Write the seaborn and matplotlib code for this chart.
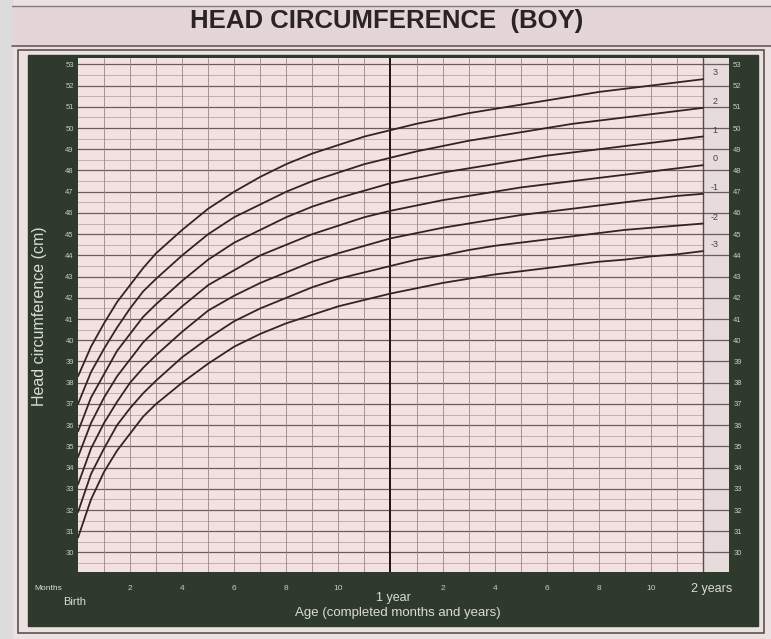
import matplotlib
matplotlib.use("Agg")
import matplotlib.pyplot as plt
from matplotlib.patches import Rectangle
from matplotlib.lines import Line2D
import seaborn as sns
import pandas as pd

# age in months, head circumference (cm) per z-score curve
months = [0, 0.5, 1, 1.5, 2, 2.5, 3, 4, 5, 6, 7, 8, 9, 10, 11, 12,
          13, 14, 15, 16, 17, 18, 19, 20, 21, 22, 23, 24]
hc_m3 = [30.7, 32.5, 33.8, 34.8, 35.6, 36.4, 37.0, 38.0, 38.9, 39.7, 40.3, 40.8, 41.2, 41.6,
         41.9, 42.2, 42.45, 42.7, 42.9, 43.1, 43.25, 43.4, 43.55, 43.7, 43.8, 43.95, 44.05, 44.2]
hc_m2 = [31.9, 33.7, 34.9, 36.0, 36.8, 37.5, 38.1, 39.2, 40.1, 40.9, 41.5, 42.0, 42.5, 42.9,
         43.2, 43.5, 43.8, 44.0, 44.25, 44.45, 44.6, 44.75, 44.9, 45.05, 45.2, 45.3, 45.4, 45.5]
hc_m1 = [33.2, 34.9, 36.1, 37.1, 38.0, 38.7, 39.3, 40.4, 41.4, 42.1, 42.7, 43.2, 43.7, 44.1,
         44.45, 44.8, 45.05, 45.3, 45.5, 45.7, 45.9, 46.05, 46.2, 46.35, 46.5, 46.65, 46.8, 46.9]
hc_0 = [34.5, 36.1, 37.3, 38.3, 39.1, 39.9, 40.5, 41.6, 42.6, 43.3, 44.0, 44.5, 45.0, 45.4,
        45.8, 46.1, 46.35, 46.6, 46.8, 47.0, 47.2, 47.35, 47.5, 47.65, 47.8, 47.95, 48.1, 48.25]
hc_p1 = [35.7, 37.3, 38.4, 39.5, 40.3, 41.1, 41.7, 42.8, 43.8, 44.6, 45.2, 45.8, 46.3, 46.7,
         47.05, 47.4, 47.65, 47.9, 48.1, 48.3, 48.5, 48.7, 48.85, 49.0, 49.15, 49.3, 49.45, 49.6]
hc_p2 = [37.0, 38.5, 39.6, 40.6, 41.5, 42.3, 42.9, 44.0, 45.0, 45.8, 46.4, 47.0, 47.5, 47.9,
         48.3, 48.6, 48.9, 49.15, 49.4, 49.6, 49.8, 50.0, 50.2, 50.35, 50.5, 50.65, 50.8, 50.95]
hc_p3 = [38.3, 39.7, 40.8, 41.8, 42.6, 43.4, 44.1, 45.2, 46.2, 47.0, 47.7, 48.3, 48.8, 49.2,
         49.6, 49.9, 50.2, 50.45, 50.7, 50.9, 51.1, 51.3, 51.5, 51.7, 51.85, 52.0, 52.15, 52.3]

z_labels = ["3", "2", "1", "0", "-1", "-2", "-3"]
curves = [hc_p3, hc_p2, hc_p1, hc_0, hc_m1, hc_m2, hc_m3]

cm_ticks = list(range(30, 54))
month_ticks = [2, 4, 6, 8, 10, 14, 16, 18, 20, 22]
month_labels = ["2", "4", "6", "8", "10", "2", "4", "6", "8", "10"]

df = pd.DataFrame({"month": months * len(curves),
                   "hc": [v for c in curves for v in c],
                   "z": [z for z, c in zip(z_labels, curves) for _ in c]})

sns.set_style("white")
plt.rcParams["font.family"] = ["Liberation Sans", "DejaVu Sans"]

W, H = 771, 639
fig = plt.figure(figsize=(W / 100, H / 100), dpi=100, facecolor="#ebe1e1")

def px_rect(x0, y0, x1, y1, **kw):
    fig.add_artist(Rectangle((x0 / W, 1 - y1 / H), (x1 - x0) / W, (y1 - y0) / H,
                             transform=fig.transFigure, **kw))

def px_line(xs, ys, **kw):
    fig.add_artist(Line2D([x / W for x in xs], [1 - y / H for y in ys],
                          transform=fig.transFigure, **kw))

# page background bits
px_rect(0, 0, 12, H, color="#dcdcdc", zorder=0)
px_rect(12, 6, W, 46, color="#e4d6d6", zorder=0)
px_line([12, W], [6, 6], color="#8a7a7a", lw=1)
px_line([12, W], [46, 46], color="#6a5a5a", lw=1.2)
px_rect(18, 50, 764, 633, fill=False, ec="#5e5050", lw=1.2, zorder=1)
# dark green frame
px_rect(28, 55, 758, 626, color="#2e3a2c", zorder=1)

fig.text(387 / W, 1 - 21 / H, "HEAD CIRCUMFERENCE  (BOY)", ha="center", va="center",
         fontsize=18.5, fontweight="bold", color="#2a2424")

ax = fig.add_axes([78 / W, 1 - 572 / H, 651 / W, 514 / H], zorder=2)
ax.set_facecolor("#f3e0e0")
ax.axvspan(24, 25, color="#e6dcdc", zorder=0)

# grid
for v in range(30, 54):
    ax.axhline(v, color="#6e5a5a", lw=0.9, zorder=1)
    ax.axhline(v + 0.5, xmax=24 / 25, color="#bba6a6", lw=0.6, zorder=1)
ax.axhline(29.5, xmax=24 / 25, color="#bba6a6", lw=0.6, zorder=1)
for m in range(1, 24):
    ax.axvline(m, color="#9a8686", lw=0.6, zorder=1)
ax.axvline(12, color="#1e1414", lw=1.4, zorder=2)
ax.axvline(24, color="#5a4a4a", lw=1.0, zorder=2)

sns.lineplot(data=df, x="month", y="hc", hue="z", hue_order=z_labels,
             palette=["#352222"] * len(z_labels), legend=False, lw=1.3, ax=ax, zorder=3)

for z, c in zip(z_labels, curves):
    ax.text(24.45, c[-1] + 0.3, z, ha="center", va="center", fontsize=6.5, color="#4a4040")

ax.set_xlim(0, 25)
ax.set_ylim(29.08, 53.3)
ax.set_yticks(cm_ticks)
ax.set_yticklabels([str(v) for v in cm_ticks])
ax.set_xticks(month_ticks)
ax.set_xticklabels(month_labels)
ax.tick_params(axis="y", length=0, pad=3, labelsize=5.5, labelcolor="#c8cac0",
               labelleft=True, labelright=True)
ax.tick_params(axis="x", length=0, pad=9, labelsize=6, labelcolor="#c8cac0")
ax.set_xlabel("")
ax.set_ylabel("")
for s in ax.spines.values():
    s.set_visible(False)

tc = "#dcdcd4"
fig.text(40 / W, 1 - 316 / H, "Head circumference (cm)", rotation=90, ha="center",
         va="center", fontsize=11.5, color=tc)
fig.text(48 / W, 1 - 589 / H, "Months", ha="center", va="center", fontsize=6, color=tc)
fig.text(75 / W, 1 - 602 / H, "Birth", ha="center", va="center", fontsize=8, color=tc)
fig.text(393 / W, 1 - 598 / H, "1 year", ha="center", va="center", fontsize=9, color=tc)
fig.text(398 / W, 1 - 613 / H, "Age (completed months and years)", ha="center",
         va="center", fontsize=9.5, color=tc)
fig.text(712 / W, 1 - 589 / H, "2 years", ha="center", va="center", fontsize=9, color=tc)

fig.savefig("out.png", dpi=100, facecolor=fig.get_facecolor())
